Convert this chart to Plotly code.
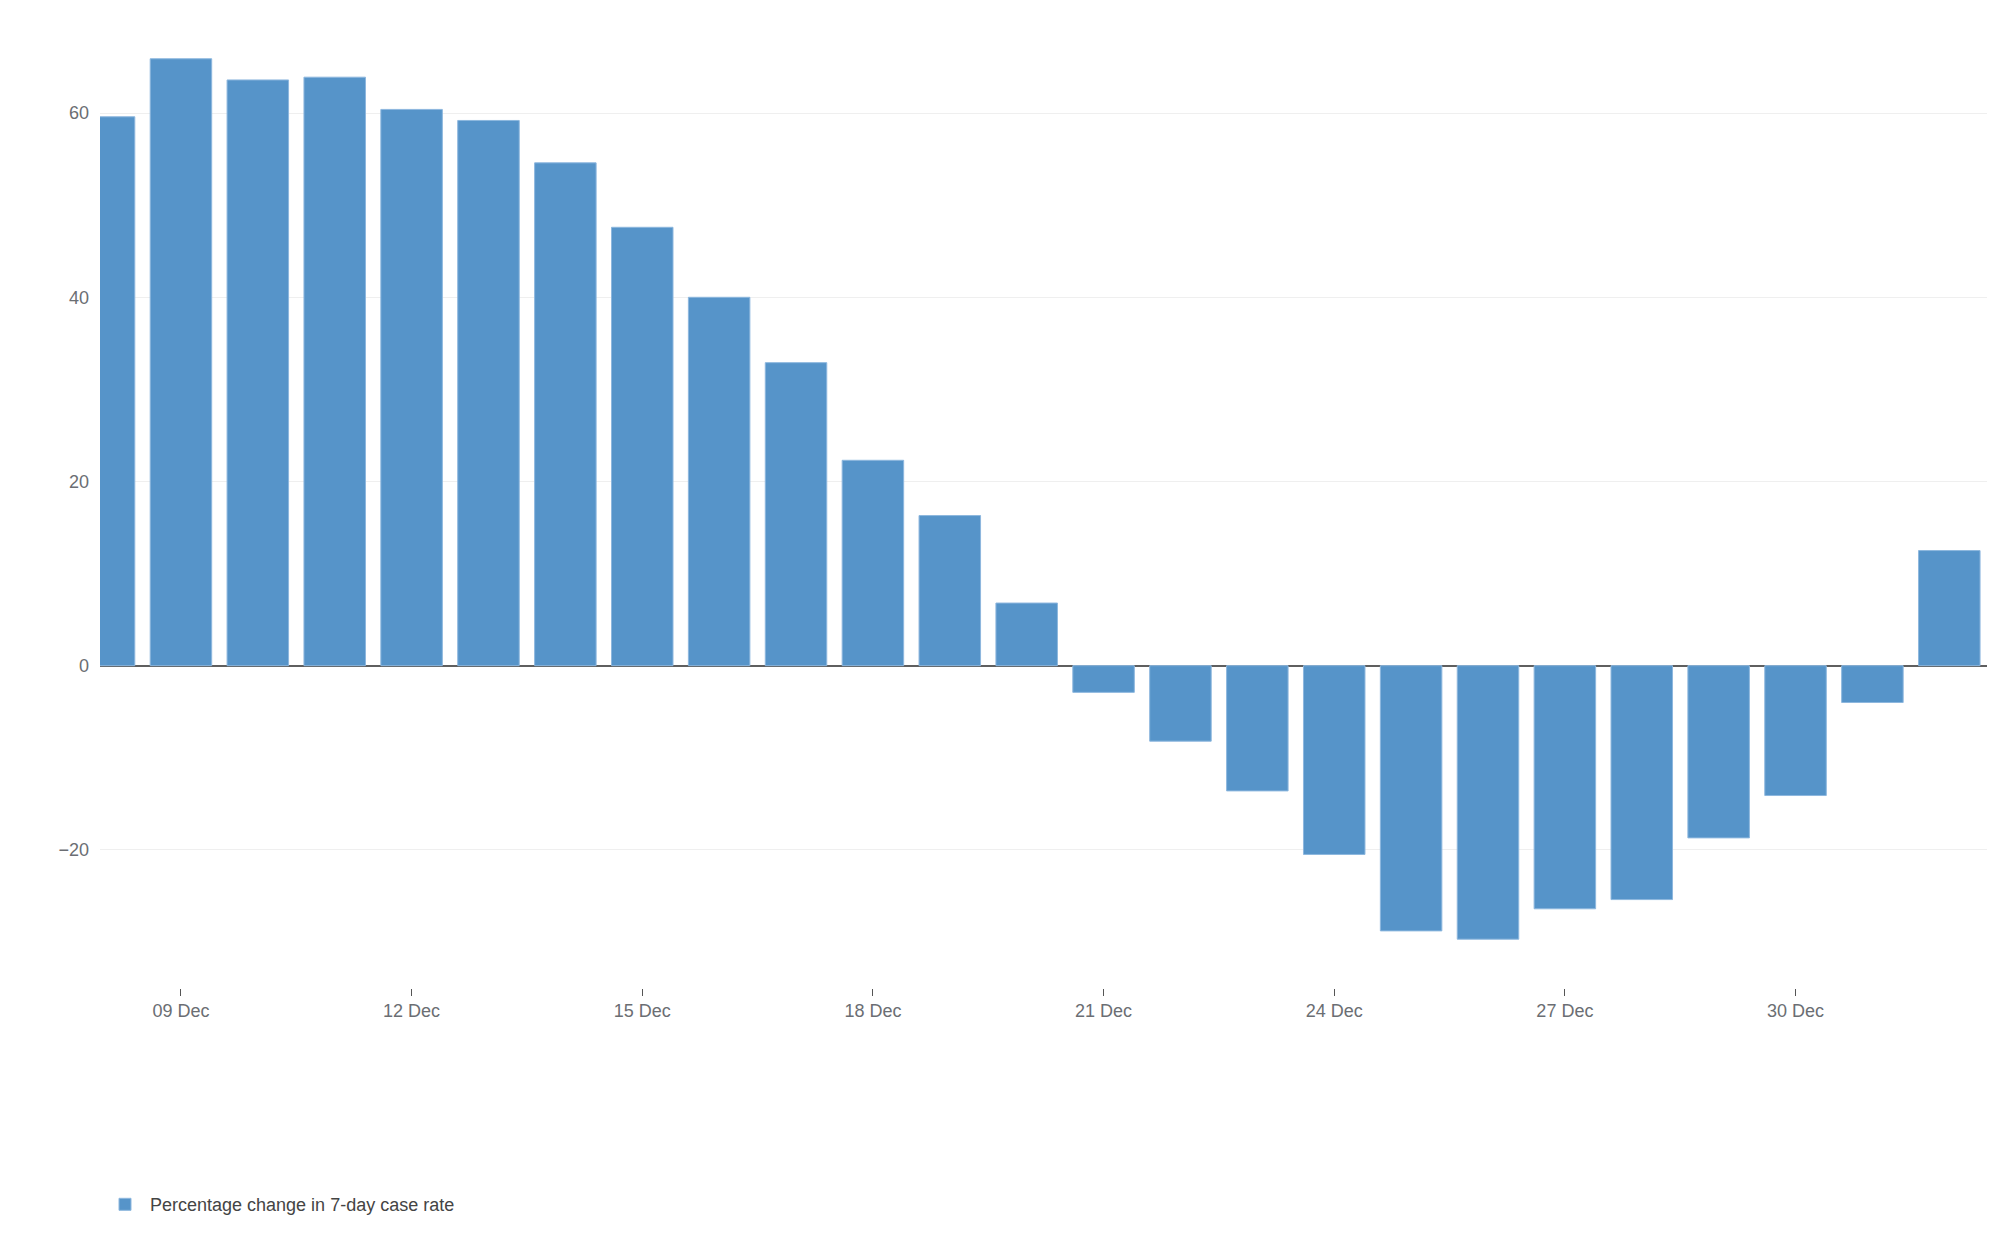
import plotly.graph_objects as go
import pandas as pd

dates = pd.date_range("2020-12-08", "2021-01-01", freq="D")
values = [59.6, 65.9, 63.6, 63.9, 60.4, 59.2, 54.6, 47.6, 40.0, 32.9,
          22.3, 16.3, 6.8, -2.9, -8.2, -13.6, -20.5, -28.8, -29.7, -26.4,
          -25.4, -18.7, -14.1, -4.0, 12.5]
series_name = "Percentage change in 7-day case rate"
tick_dates = ["2020-12-09", "2020-12-12", "2020-12-15", "2020-12-18",
              "2020-12-21", "2020-12-24", "2020-12-27", "2020-12-30"]
y_ticks = [-20, 0, 20, 40, 60]

fig = go.Figure()
fig.add_trace(go.Bar(
    x=dates, y=values, name=series_name,
    width=0.8 * 86400000,
    marker=dict(color="#5694c9", line=dict(color="#8db7de", width=1)),
    showlegend=True,
))

fig.update_layout(
    width=2000, height=1237,
    paper_bgcolor="white", plot_bgcolor="white",
    margin=dict(l=92, r=21, t=13, b=257, autoexpand=False),
    font=dict(family="Liberation Sans, Arial, sans-serif", size=18, color="#6b6e73"),
    bargap=0.2,
    xaxis=dict(
        type="date",
        range=["2020-12-07 22:44", "2021-01-01 11:46"],
        tickvals=tick_dates,
        tickformat="%d %b",
        ticks="outside", ticklen=7, tickwidth=1, tickcolor="#555555",
        showgrid=False, showline=False, zeroline=False,
        tickfont=dict(size=18, color="#6b6e73"),
        ticklabelstandoff=-1,
    ),
    yaxis=dict(
        range=[-35, 70],
        tickvals=y_ticks,
        ticktext=["\u221220", "0", "20", "40", "60"],
        showgrid=True, gridcolor="#efefef", gridwidth=1,
        zeroline=True, zerolinecolor="#5f5f5f", zerolinewidth=1.5,
        showline=False, ticks="",
        tickfont=dict(size=18, color="#6b6e73"),
        ticklabelstandoff=10,
    ),
    legend=dict(
        orientation="h",
        x=0.0, xanchor="left",
        y=-0.224, yanchor="middle",
        itemwidth=40,
        font=dict(size=18, color="#444444"),
        bgcolor="rgba(0,0,0,0)",
    ),
)

fig.write_html("out.html")
